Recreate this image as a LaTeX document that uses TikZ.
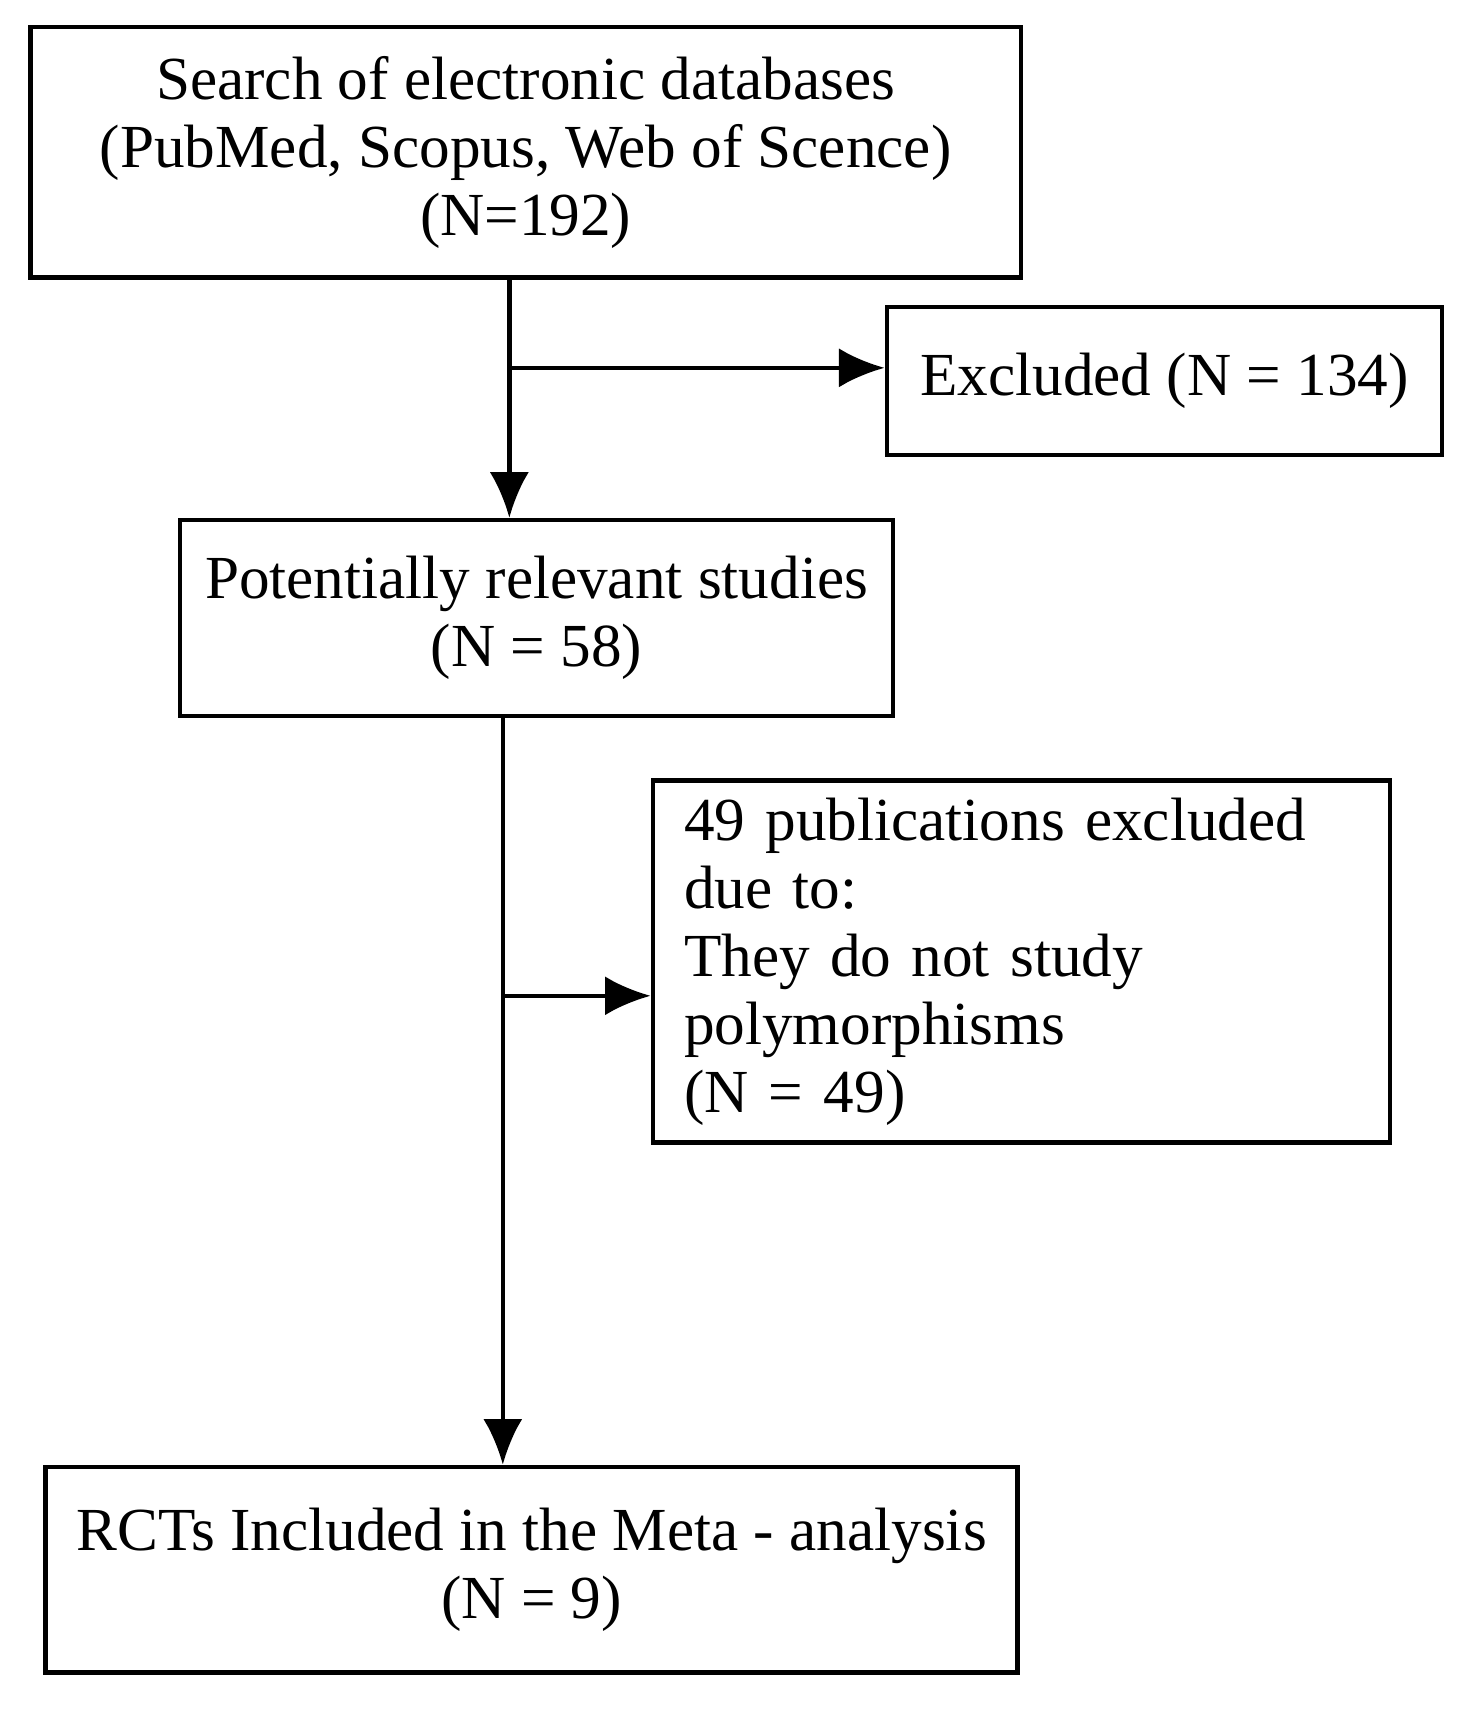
\documentclass[tikz,border=0pt]{standalone}
\usepackage{fontspec}
\setmainfont{Liberation Serif}
\usetikzlibrary{arrows.meta,calc}
\begin{document}
\begin{tikzpicture}[>={Latex[length=4.2mm,width=3.6mm]},line width=1.2pt]
    \tikzset{box/.style={rectangle, draw=black, align=center, inner sep=0pt,
        font=\fontsize{16}{17.8}\selectfont}}
    \useasboundingbox (0,0) rectangle (13.6,15.85);

    \node[box, minimum width=9.1cm, minimum height=2.3cm] (search) at (4.83, 14.45)
        {Search of electronic databases\\(PubMed, Scopus, Web of Scence)\\(N=192)};
    \node[box, minimum width=5.1cm, minimum height=1.36cm] (excl) at (10.70, 12.35)
        {Excluded (N = 134)};
    \node[box, minimum width=6.55cm, minimum height=1.8cm] (relevant) at (4.93, 10.17)
        {Potentially relevant studies\\(N = 58)};
    \node[box, minimum width=6.77cm, minimum height=3.33cm, align=left, text width=6.2cm, inner xsep=0.285cm] (pubs) at (9.385, 7.015)
        {49 publications excluded\\due to:\\They do not study\\polymorphisms\\(N = 49)};
    \node[box, minimum width=8.93cm, minimum height=1.89cm] (rcts) at (4.885, 1.425)
        {RCTs Included in the Meta - analysis\\(N = 9)};

    \coordinate (b1) at (4.68, 12.47);
    \coordinate (b2) at (4.62, 6.70);

    \draw[->] (search.south -| b1) -- (relevant.north -| b1);
    \draw[->] (b1) -- (excl.west |- b1);
    \draw[->] (relevant.south -| b2) -- (rcts.north -| b2);
    \draw[->] (b2) -- (pubs.west |- b2);
\end{tikzpicture}
\end{document}
